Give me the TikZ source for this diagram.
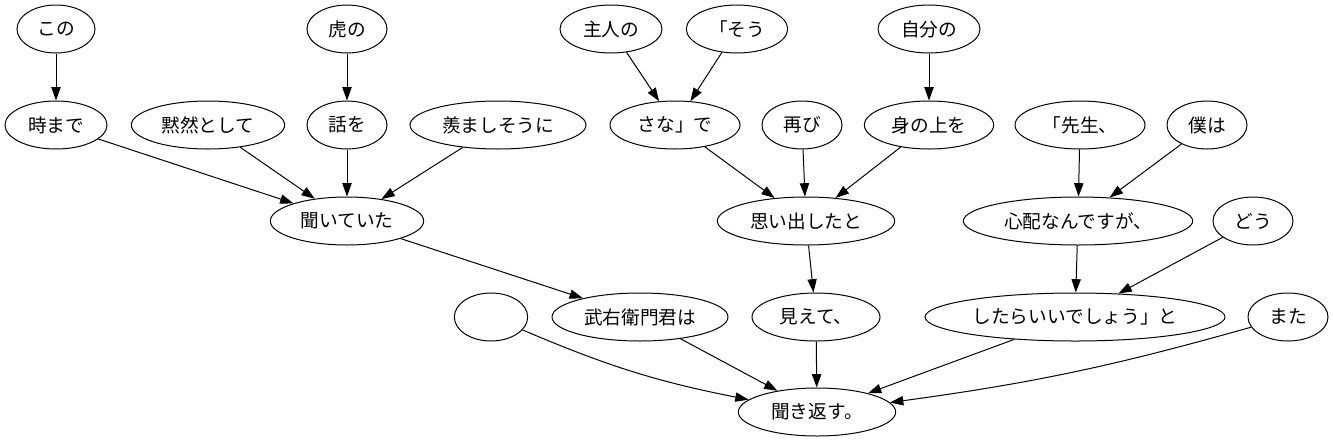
\documentclass[tikz,border=0pt]{standalone}
\usepackage{fontspec}
\setmainfont{Noto Sans CJK JP}
\usetikzlibrary{arrows.meta, shapes.geometric}

\begin{document}
\begin{tikzpicture}[x=0.75pt, y=-0.75pt,
    word/.style={draw, ellipse, line width=0.75pt, inner sep=0pt,
                 minimum height=36pt, font=\fontsize{14pt}{16pt}\selectfont},
    dep/.style={-{Triangle[length=10pt, width=7pt]}, line width=0.75pt}]
    \useasboundingbox (0,0) rectangle (1333,443);
    % first row
    \node[word, minimum width=58.5pt] (kono)   at (56, 29)  {この};
    \node[word, minimum width=60pt]   (tora)   at (347, 29) {虎の};
    \node[word, minimum width=76.5pt] (shujin) at (611, 29) {主人の};
    \node[word, minimum width=76pt]   (sou)    at (737, 29) {「そう};
    \node[word, minimum width=76.5pt] (jibun)  at (929, 29) {自分の};
    % second row
    \node[word, minimum width=76.5pt] (tokimade) at (56, 125)   {時まで};
    \node[word, minimum width=115pt]  (mokuzen)  at (208, 125)  {黙然として};
    \node[word, minimum width=60pt]   (hanashi)  at (347, 125)  {話を};
    \node[word, minimum width=132pt]  (urayama)  at (498, 125)  {羨ましそうに};
    \node[word, minimum width=97.5pt] (sana)     at (675, 125)  {さな」で};
    \node[word, minimum width=60pt]   (futatabi) at (802, 125)  {再び};
    \node[word, minimum width=97pt]   (minoue)   at (929, 125)  {身の上を};
    \node[word, minimum width=97.5pt] (sensei)   at (1080, 125) {「先生、};
    \node[word, minimum width=60pt]   (boku)     at (1207, 125) {僕は};
    % third row
    \node[word, minimum width=115pt]  (kiite)     at (347, 221)  {聞いていた};
    \node[word, minimum width=133pt]  (omoidashi) at (806, 221)  {思い出したと};
    \node[word, minimum width=172pt]  (shinpai)   at (1078, 221) {心配なんですが、};
    \node[word, minimum width=60pt]   (dou)       at (1253, 221) {どう};
    % fourth row
    \node[word, minimum width=55pt]   (blank)    at (491, 317)  {};
    \node[word, minimum width=132pt]  (takeemon) at (640, 317)  {武右衛門君は};
    \node[word, minimum width=96pt]   (miete)    at (816, 317)  {見えて、};
    \node[word, minimum width=225pt]  (shitara)  at (1075, 317) {したらいいでしょう」と};
    \node[word, minimum width=60pt]   (mata)     at (1288, 317) {また};
    % root
    \node[word, minimum width=118pt]  (kikikaesu) at (817, 412) {聞き返す。};

    \draw[dep] (kono) -- (tokimade);
    \draw[dep] (tora) -- (hanashi);
    \draw[dep] (tokimade) -- (kiite);
    \draw[dep] (mokuzen) -- (kiite);
    \draw[dep] (hanashi) -- (kiite);
    \draw[dep] (urayama) -- (kiite);
    \draw[dep] (shujin) -- (sana);
    \draw[dep] (sou) -- (sana);
    \draw[dep] (jibun) -- (minoue);
    \draw[dep] (sana) -- (omoidashi);
    \draw[dep] (futatabi) -- (omoidashi);
    \draw[dep] (minoue) -- (omoidashi);
    \draw[dep] (sensei) -- (shinpai);
    \draw[dep] (boku) -- (shinpai);
    \draw[dep] (kiite) -- (takeemon);
    \draw[dep] (omoidashi) -- (miete);
    \draw[dep] (shinpai) -- (shitara);
    \draw[dep] (dou) -- (shitara);
    \draw[dep] (blank) to[bend right=6] (kikikaesu);
    \draw[dep] (takeemon) -- (kikikaesu);
    \draw[dep] (miete) -- (kikikaesu);
    \draw[dep] (shitara) -- (kikikaesu);
    \draw[dep] (mata) to[bend left=4] (kikikaesu);
\end{tikzpicture}
\end{document}
